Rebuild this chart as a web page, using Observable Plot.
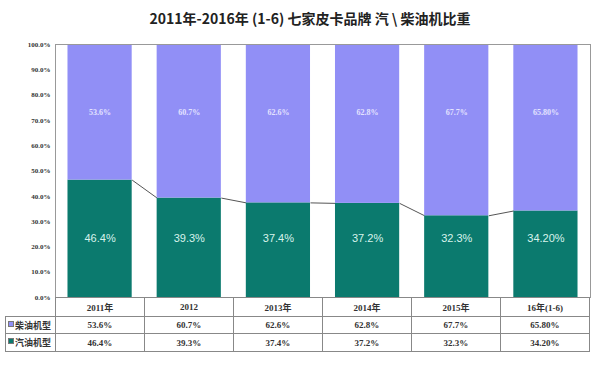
<!DOCTYPE html>
<html><head><meta charset="utf-8">
<script src="https://cdn.jsdelivr.net/npm/d3@7"></script>
<script src="https://cdn.jsdelivr.net/npm/@observablehq/plot@0.6"></script>
<style>
body{margin:0;background:#fff;}
#wrap{position:relative;width:600px;height:366px;overflow:hidden;background:#fff;}
#title{position:absolute;left:0;top:8px;width:620px;text-align:center;font:bold 14px "Noto Sans CJK SC","Noto Sans",sans-serif;color:#222;line-height:20px;}
#chart{position:absolute;left:0;top:36px;}
table{position:absolute;border-collapse:collapse;font-family:"Liberation Serif","Noto Sans CJK SC",serif;font-weight:bold;font-size:9px;color:#333;}
td{border:1px solid #888;text-align:center;padding:0;}
td.lab{text-align:left;padding-left:2px;white-space:nowrap;}
.sw{display:inline-block;width:4px;height:4px;border:1px solid #777;margin-right:1px;vertical-align:2px;}
</style></head>
<body><div id="wrap"><div id="title"></div><div id="chart"></div><table id="tbl"></table></div>
<script>
const title = "2011年-2016年 (1-6) 七家皮卡品牌 汽 \\ 柴油机比重";
const categories = ["2011年","2012","2013年","2014年","2015年","16年(1-6)"];
const diesel = [53.6,60.7,62.6,62.8,67.7,65.8];
const gasoline = [46.4,39.3,37.4,37.2,32.3,34.2];
const dieselLabels = ["53.6%","60.7%","62.6%","62.8%","67.7%","65.80%"];
const gasolineLabels = ["46.4%","39.3%","37.4%","37.2%","32.3%","34.20%"];
const seriesNames = ["柴油机型","汽油机型"];
const yTicks = [0,10,20,30,40,50,60,70,80,90,100];

const purple = "#918ff6", teal = "#0b7a6e";
const half = 0.36;
const rows = categories.map((c,i)=>({i, cat:c, gas:gasoline[i], diesel:diesel[i], gl:gasolineLabels[i], dl:dieselLabels[i]}));
const links = rows.slice(0,-1).map((r,i)=>({x1:i+half, x2:i+1-half, y1:r.gas, y2:rows[i+1].gas}));

document.getElementById("title").textContent = title;

const mL = 55, mR = 10, W = 600;
const plot = Plot.plot({
  width: W, height: 261,
  marginLeft: mL, marginRight: mR, marginTop: 8, marginBottom: 0,
  style: {background: "transparent", overflow: "visible"},
  x: {domain: [-0.5, categories.length - 0.5], axis: null},
  y: {domain: [0, 100]},
  marks: [
    Plot.link(links, {x1:"x1", x2:"x2", y1:"y1", y2:"y2", stroke:"#555", strokeWidth:1}),
    Plot.rectY(rows, {x1:d=>d.i-half, x2:d=>d.i+half, y1:0, y2:"gas", fill:teal}),
    Plot.rectY(rows, {x1:d=>d.i-half, x2:d=>d.i+half, y1:"gas", y2:100, fill:purple}),
    Plot.text(rows, {x:"i", y:23.5, text:"gl", fill:"#d8f3ec", fontSize:11, fontFamily:"Liberation Sans, sans-serif"}),
    Plot.text(rows, {x:"i", y:73, text:"dl", fill:"#e4e3ff", fontSize:8, fontFamily:"Liberation Serif, serif", fontWeight:"bold"}),
    Plot.frame({stroke:"#999", strokeWidth:1}),
    Plot.axisY({ticks: yTicks, tickFormat: d => d.toFixed(1) + "%", tickSize: 0, tickPadding: 5,
      fontSize: 7, fontWeight: "bold", fontFamily: "Liberation Serif, serif", fill:"#333"})
  ]
});
document.getElementById("chart").appendChild(plot);

// table
const tbl = document.getElementById("tbl");
const colW = (W - mL - mR) / categories.length;
tbl.style.left = "5px";
tbl.style.top = "297px";
tbl.style.width = (W - mR - 5) + "px";
let html = "<colgroup><col style='width:" + (mL-5) + "px'>" + categories.map(()=>"<col style='width:" + colW + "px'>").join("") + "</colgroup>";
html += "<tr style='height:19px'><td style='border:none;border-right:1px solid #888'></td>" + categories.map(c=>"<td>"+c+"</td>").join("") + "</tr>";
html += "<tr style='height:17px'><td class='lab'><span class='sw' style='background:"+purple+"'></span>"+seriesNames[0]+"</td>" + dieselLabels.map(v=>"<td>"+v+"</td>").join("") + "</tr>";
html += "<tr style='height:18px'><td class='lab'><span class='sw' style='background:"+teal+"'></span>"+seriesNames[1]+"</td>" + gasolineLabels.map(v=>"<td>"+v+"</td>").join("") + "</tr>";
tbl.innerHTML = html;
</script></body></html>
